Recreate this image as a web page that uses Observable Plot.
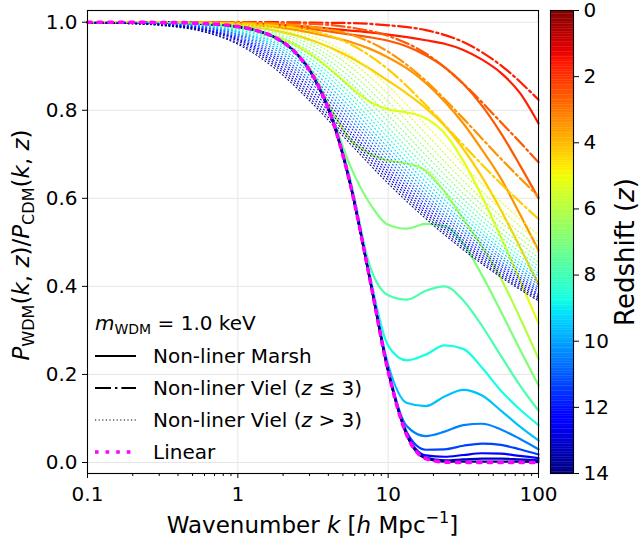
<!DOCTYPE html>
<html><head><meta charset="utf-8">
<script src="https://cdn.jsdelivr.net/npm/d3@7"></script>
<script src="https://cdn.jsdelivr.net/npm/@observablehq/plot@0.6"></script>
<style>
html,body{margin:0;padding:0;background:#fff;}
#wrap{position:relative;width:639px;height:548px;overflow:hidden;font-family:"DejaVu Sans";}
#wrap svg{position:absolute;top:0;}
</style></head><body><div id="wrap"></div>
<script>
// ---------- data ----------
const kFine = [0.1,0.1334,0.1778,0.2371,0.3162,0.4217,0.5623,0.7499,1,1.334,1.778,2.371,3.162,4.217,5.623,7.499,10,13.34,17.78,23.71,31.62,42.17,56.23,74.99,100];
const kCoarse = [0.1,0.1778,0.3162,0.5623,1,1.778,3.162,5.623,10,17.78,31.62,56.23,100];

const linearRatio = [1,1,1,1,0.999,0.999,0.997,0.995,0.990,0.981,0.965,0.934,0.878,0.782,0.629,0.422,0.207,0.061,0.009,0.001,0,0,0,0,0];

// Non-linear Marsh (solid), z = 0..14
const marshZ = [0,1,2,3,4,5,6,7,8,9,10,11,12,13,14];
const m0 = [1,1,1,1,1,1,1,0.999,0.998,0.997,0.995,0.992,0.989,0.985,0.981,0.977,0.972,0.966,0.959,0.951,0.937,0.915,0.885,0.84,0.77];
const m1 = [1,1,1,1,1,1,0.999,0.999,0.997,0.995,0.992,0.988,0.984,0.978,0.972,0.966,0.958,0.945,0.925,0.898,0.86,0.81,0.748,0.676,0.60];
const m2 = [1,1,1,1,1,1,0.999,0.998,0.996,0.993,0.989,0.983,0.975,0.966,0.955,0.94,0.92,0.895,0.862,0.82,0.77,0.71,0.645,0.565,0.482];
const m3 = [1,1,1,1,1,0.999,0.998,0.996,0.993,0.988,0.981,0.971,0.958,0.941,0.92,0.895,0.867,0.838,0.805,0.765,0.712,0.648,0.573,0.49,0.405];
const m4 = [1,1,1,1,0.999,0.998,0.996,0.993,0.988,0.98,0.968,0.95,0.924,0.89,0.853,0.82,0.802,0.795,0.782,0.748,0.685,0.603,0.512,0.415,0.316];
const m5 = [1,1,1,1,0.999,0.998,0.996,0.993,0.988,0.979,0.963,0.935,0.885,0.80,0.733,0.702,0.686,0.679,0.663,0.615,0.553,0.49,0.418,0.33,0.236];
const m6 = [1,1,1,1,0.999,0.999,0.997,0.995,0.99,0.981,0.965,0.935,0.88,0.786,0.672,0.59,0.54,0.531,0.542,0.537,0.497,0.425,0.343,0.258,0.175];
const m7 = [1,1,1,1,0.999,0.999,0.997,0.995,0.99,0.981,0.965,0.934,0.879,0.787,0.64,0.45,0.38,0.37,0.39,0.40,0.368,0.31,0.242,0.176,0.118];
const m8 = [1,1,1,1,0.999,0.999,0.997,0.995,0.99,0.981,0.965,0.934,0.879,0.785,0.634,0.43,0.265,0.232,0.245,0.266,0.258,0.215,0.163,0.121,0.085];
const m9 = [1,1,1,1,0.999,0.999,0.997,0.995,0.99,0.981,0.965,0.934,0.878,0.784,0.632,0.425,0.222,0.135,0.128,0.15,0.165,0.152,0.118,0.082,0.05];
const m10 = [1,1,1,1,0.999,0.999,0.997,0.995,0.99,0.981,0.965,0.934,0.878,0.783,0.63,0.423,0.212,0.082,0.06,0.07,0.085,0.088,0.075,0.054,0.03];
const m11 = [1,1,1,1,0.999,0.999,0.997,0.995,0.99,0.981,0.965,0.934,0.878,0.782,0.629,0.422,0.209,0.068,0.029,0.03,0.038,0.043,0.04,0.03,0.018];
const m12 = [1,1,1,1,0.999,0.999,0.997,0.995,0.99,0.981,0.965,0.934,0.878,0.782,0.629,0.422,0.208,0.064,0.016,0.013,0.017,0.021,0.02,0.015,0.01];
const m13 = [1,1,1,1,0.999,0.999,0.997,0.995,0.99,0.981,0.965,0.934,0.878,0.782,0.629,0.422,0.207,0.062,0.011,0.005,0.007,0.009,0.009,0.007,0.005];
const m14 = [1,1,1,1,0.999,0.999,0.997,0.995,0.99,0.981,0.965,0.934,0.878,0.782,0.629,0.422,0.207,0.061,0.009,0.002,0.002,0.002,0.002,0.002,0.001];

// Non-linear Viel, z <= 3 (dash-dot)
const dashZ = [0,1,2,3];
const vd0 = [1,1,1,1,1,1,0.999,0.998,0.993,0.982,0.955,0.902,0.824];
const vd1 = [1,1,1,1,0.999,0.998,0.996,0.988,0.969,0.929,0.86,0.773,0.682];
const vd2 = [1,1,1,0.999,0.999,0.996,0.989,0.972,0.933,0.867,0.781,0.69,0.604];
const vd3 = [1,1,1,0.999,0.997,0.992,0.98,0.95,0.893,0.812,0.721,0.633,0.553];

// Non-linear Viel, z > 3 (dotted)
const dotZ = [4,4.5,5,5.5,6,6.5,7,7.5,8,8.5,9,9.5,10,10.5,11,11.5,12,12.5,13,13.5,14];
const dot40 = [1,1,0.999,0.998,0.995,0.987,0.967,0.925,0.855,0.767,0.676,0.592,0.516];
const dot45 = [1,1,0.999,0.998,0.994,0.984,0.96,0.912,0.837,0.747,0.657,0.575,0.501];
const dot50 = [1,1,0.999,0.997,0.993,0.981,0.953,0.899,0.82,0.729,0.64,0.559,0.488];
const dot55 = [1,1,0.999,0.997,0.992,0.978,0.946,0.886,0.804,0.713,0.625,0.546,0.476];
const dot60 = [1,1,0.999,0.996,0.99,0.974,0.938,0.874,0.789,0.698,0.611,0.533,0.465];
const dot65 = [1,0.999,0.998,0.996,0.988,0.97,0.93,0.862,0.775,0.684,0.598,0.522,0.455];
const dot70 = [1,0.999,0.998,0.995,0.987,0.966,0.921,0.85,0.761,0.671,0.587,0.512,0.446];
const dot75 = [1,0.999,0.998,0.994,0.985,0.961,0.913,0.838,0.749,0.659,0.576,0.502,0.438];
const dot80 = [1,0.999,0.998,0.994,0.983,0.956,0.905,0.827,0.737,0.648,0.566,0.493,0.43];
const dot85 = [1,0.999,0.997,0.993,0.98,0.952,0.897,0.817,0.726,0.637,0.557,0.485,0.423];
const dot90 = [1,0.999,0.997,0.992,0.978,0.947,0.888,0.806,0.715,0.627,0.548,0.478,0.416];
const dot95 = [1,0.999,0.997,0.991,0.976,0.942,0.88,0.796,0.705,0.618,0.54,0.47,0.41];
const dot100 = [1,0.999,0.996,0.99,0.973,0.937,0.872,0.787,0.696,0.609,0.532,0.464,0.404];
const dot105 = [0.999,0.999,0.996,0.989,0.971,0.931,0.864,0.778,0.687,0.601,0.525,0.457,0.398];
const dot110 = [0.999,0.998,0.995,0.988,0.968,0.926,0.857,0.769,0.678,0.594,0.518,0.451,0.393];
const dot115 = [0.999,0.998,0.995,0.986,0.965,0.921,0.849,0.761,0.67,0.586,0.511,0.446,0.388];
const dot120 = [0.999,0.998,0.995,0.985,0.962,0.916,0.842,0.752,0.662,0.579,0.505,0.44,0.383];
const dot125 = [0.999,0.998,0.994,0.984,0.96,0.91,0.834,0.745,0.655,0.572,0.499,0.435,0.379];
const dot130 = [0.999,0.998,0.994,0.983,0.957,0.905,0.827,0.737,0.648,0.566,0.494,0.43,0.375];
const dot135 = [0.999,0.997,0.993,0.981,0.953,0.9,0.82,0.73,0.641,0.56,0.488,0.425,0.371];
const dot140 = [0.999,0.997,0.992,0.98,0.95,0.894,0.814,0.723,0.634,0.554,0.483,0.421,0.367];

const xTicks = [0.1,1,10,100];
const yTicks = [0,0.2,0.4,0.6,0.8,1.0];
const cbTicks = [0,2,4,6,8,10,12,14];

// ---------- tables ----------
const marshVals = [m0,m1,m2,m3,m4,m5,m6,m7,m8,m9,m10,m11,m12,m13,m14];
const dashVals = [vd0,vd1,vd2,vd3];
const dotVals = [dot40,dot45,dot50,dot55,dot60,dot65,dot70,dot75,dot80,dot85,dot90,dot95,dot100,dot105,dot110,dot115,dot120,dot125,dot130,dot135,dot140];
const marshRows = marshZ.flatMap((z,j) => marshVals[j].map((v,i) => ({k: kFine[i], v, z})));
const dashRows = dashZ.flatMap((z,j) => dashVals[j].map((v,i) => ({k: kCoarse[i], v, z})));
const dotRows = dotZ.flatMap((z,j) => dotVals[j].map((v,i) => ({k: kCoarse[i], v, z})));
const linRows = linearRatio.map((v,i) => ({k: kFine[i], v}));
const minorTicks = [];
for (const d of [0.1,1,10]) for (let m = 2; m <= 9; m++) minorTicks.push(+(d*m).toPrecision(3));

// jet colormap (reversed: low redshift = red)
const jetR = [[0,0],[0.35,0],[0.66,1],[0.89,1],[1,0.5]];
const jetG = [[0,0],[0.125,0],[0.375,1],[0.64,1],[0.91,0],[1,0]];
const jetB = [[0,0.5],[0.11,1],[0.34,1],[0.65,0],[1,0]];
function seg(p, t) {
  t = Math.max(0, Math.min(1, t));
  for (let i = 1; i < p.length; i++) if (t <= p[i][0]) {
    const [x0,y0] = p[i-1], [x1,y1] = p[i];
    return y0 + (y1 - y0) * (t - x0) / (x1 - x0);
  }
  return p[p.length-1][1];
}
const jet = t => d3.rgb(255*seg(jetR,t), 255*seg(jetG,t), 255*seg(jetB,t)).formatHex();
const jetRev = t => jet(1 - t);

const FS = 20;
const main = Plot.plot({
  width: 639, height: 548,
  marginLeft: 87, marginRight: 101, marginTop: 10, marginBottom: 75,
  style: {fontFamily: "DejaVu Sans", fontSize: FS + "px", color: "black", background: "white"},
  x: {type: "log", domain: [0.1, 100]},
  y: {domain: [-0.025, 1.0266]},
  color: {type: "linear", domain: [-1.91, 14], interpolate: jetRev},
  marks: [
    Plot.gridX(xTicks, {stroke: "#e6e6e6", strokeOpacity: 1, strokeWidth: 1}),
    Plot.gridY(yTicks, {stroke: "#e6e6e6", strokeOpacity: 1, strokeWidth: 1}),
    Plot.line(marshRows, {x: "k", y: "v", z: "z", stroke: "z", strokeWidth: 2.2, curve: "monotone-x"}),
    Plot.line(dashRows, {x: "k", y: "v", z: "z", stroke: "z", strokeWidth: 2.2, strokeDasharray: "13,3.5,2.2,3.5", curve: "monotone-x"}),
    Plot.line(dotRows, {x: "k", y: "v", z: "z", stroke: "z", strokeWidth: 1.05, strokeDasharray: "1.1,2.6", curve: "monotone-x"}),
    Plot.line(linRows, {x: "k", y: "v", stroke: "#ff00ff", strokeWidth: 3.6, strokeDasharray: "3.6,7", curve: "monotone-x"}),
    Plot.frame({stroke: "black", strokeWidth: 1.1}),
    Plot.axisX(minorTicks, {tickSize: 3, tickFormat: () => "", label: null}),
    Plot.axisX(xTicks, {tickSize: 5, tickPadding: 8, tickFormat: d => String(d), label: null}),
    Plot.axisY(yTicks, {tickSize: 5, tickPadding: 5, tickFormat: d3.format(".1f"), label: null})
  ]
});
document.getElementById("wrap").appendChild(main);

// colorbar
const cbSlices = d3.range(0, 14, 0.05).map(z => ({z0: z, z1: Math.min(14, z + 0.06), zc: z + 0.025}));
const cb = Plot.plot({
  width: 99, height: 548,
  marginLeft: 10, marginRight: 66, marginTop: 10, marginBottom: 75,
  style: {fontFamily: "DejaVu Sans", fontSize: FS + "px", color: "black", background: "transparent", overflow: "visible"},
  x: {domain: [0, 1], axis: null},
  y: {domain: [0, 14], reverse: true},
  color: {type: "linear", domain: [0, 14], interpolate: jetRev},
  marks: [
    Plot.rect(cbSlices, {x1: 0, x2: 1, y1: "z0", y2: "z1", fill: "zc"}),
    Plot.frame({stroke: "black", strokeWidth: 1.1}),
    Plot.axisY(cbTicks, {anchor: "right", tickSize: 5, tickPadding: 5, tickFormat: d => String(d), label: null})
  ]
});
cb.style.left = "540px";
document.getElementById("wrap").appendChild(cb);

// ---------- rich text (labels, legend) ----------
const svg = d3.select(main);
function richText(x, y, fs, parts, opts = {}) {
  const t = svg.append("text").attr("x", x).attr("y", y)
    .attr("font-size", fs).attr("fill", "black")
    .attr("text-anchor", opts.anchor || "start")
    .style("white-space", "pre").style("font-family", "DejaVu Sans");
  if (opts.rotate) t.attr("transform", `rotate(${opts.rotate},${x},${y})`);
  let shift = 0;
  for (const p of parts) {
    const ts = t.append("tspan").text(p.t);
    const target = p.sub ? 0.22*fs : p.sup ? -0.42*fs : 0;
    if (target !== shift) { ts.attr("dy", target - shift); shift = target; }
    if (p.sub || p.sup) ts.attr("font-size", 0.7*fs);
    if (p.it) ts.attr("font-style", "italic");
  }
  return t;
}
const LFS = 23;
richText(312.5, 533, LFS, [{t:"Wavenumber "},{t:"k",it:1},{t:" ["},{t:"h",it:1},{t:" Mpc"},{t:"\u22121",sup:1},{t:"]"}], {anchor: "middle"});
richText(29, 245, LFS, [{t:"P",it:1},{t:"WDM",sub:1},{t:"("},{t:"k",it:1},{t:", "},{t:"z",it:1},{t:")/"},{t:"P",it:1},{t:"CDM",sub:1},{t:"("},{t:"k",it:1},{t:", "},{t:"z",it:1},{t:")"}], {anchor: "middle", rotate: -90});
richText(634, 252, 26, [{t:"Redshift ("},{t:"z",it:1},{t:")"}], {anchor: "middle", rotate: -90});

// legend
const legFS = 20;
richText(95, 330, legFS, [{t:"m",it:1},{t:"WDM",sub:1},{t:" = 1.0 keV"}]);
const legRows = [
  {y: 363, parts: [{t:"Non-liner Marsh"}], stroke: "black", w: 2.2, dash: null},
  {y: 395, parts: [{t:"Non-liner Viel ("},{t:"z",it:1},{t:" \u2264 3)"}], stroke: "black", w: 2.2, dash: "16,4,2.4,4"},
  {y: 427, parts: [{t:"Non-liner Viel ("},{t:"z",it:1},{t:" > 3)"}], stroke: "black", w: 1.1, dash: "1.2,2.4"},
  {y: 459, parts: [{t:"Linear"}], stroke: "#ff00ff", w: 3.6, dash: "3.6,7"}
];
for (const r of legRows) {
  const ln = svg.append("line").attr("x1", 95).attr("x2", 136).attr("y1", r.y - 7).attr("y2", r.y - 7)
    .attr("stroke", r.stroke).attr("stroke-width", r.w);
  if (r.dash) ln.attr("stroke-dasharray", r.dash);
  richText(153, r.y, legFS, r.parts);
}
</script></body></html>
